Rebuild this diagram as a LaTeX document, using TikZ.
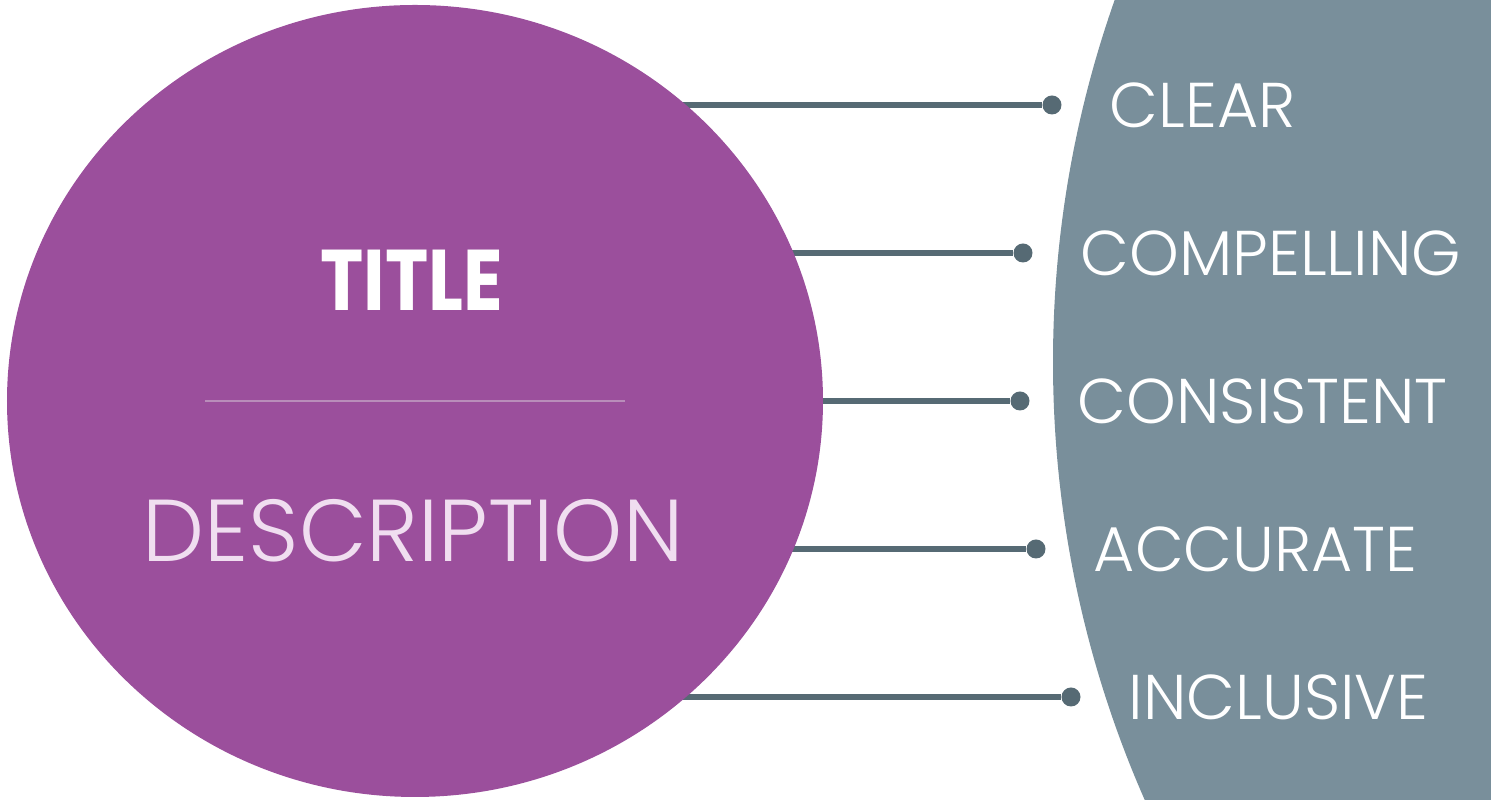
\documentclass[tikz,border=0pt]{standalone}
\usepackage{fontspec}
\setmainfont{Poppins}
\newfontfamily\thinfont{Poppins}[UprightFont={* Light}]
\usepackage{tikz}
\usetikzlibrary{shapes.geometric, positioning, backgrounds}
\definecolor{plum}{HTML}{9B4F9C}
\definecolor{slate}{HTML}{798F9B}
\definecolor{wire}{HTML}{566A74}
\definecolor{lilac}{HTML}{F0DEF0}
\definecolor{rule}{HTML}{B98DBA}

\begin{document}
\begin{tikzpicture}[node distance=0.47cm,quality/.style={font=\thinfont\fontsize{18}{18}\selectfont, text=white, anchor=west, inner sep=0pt}]
\tikzstyle{knob} = [circle, fill=wire, inner sep=0pt, minimum size=0.19cm]
\tikzstyle{wireline} = [draw=wire, line width=1.7pt]

\useasboundingbox (0,0) rectangle (14.91,8);
\clip (0,0) rectangle (14.91,8);

\node[ellipse, fill=plum, inner sep=0pt, minimum width=8.16cm, minimum height=7.92cm] (main) at (4.15,3.99) {};
\node[text=white, font=\bfseries\fontsize{24.5}{24.5}\selectfont] (title) at (4.12,5.2) {\scalebox{0.85}[1]{TITLE}};
\node[text=lilac, font=\thinfont\fontsize{25}{25}\selectfont] (desc) at (4.13,2.69) {DESCRIPTION};
\draw[rule, line width=0.6pt] ([xshift=-2.1cm]main.center) -- ([xshift=2.1cm]main.center);

\node[knob] (d1) at (10.52,6.95) {};
\node[knob] (d2) at (10.23,5.47) {};
\node[knob] (d3) at (10.20,3.99) {};
\node[knob] (d4) at (10.36,2.51) {};
\node[knob] (d5) at (10.71,1.03) {};

\node[quality, right=of d1] (clear) {CLEAR};
\node[quality, right=of d2] (compelling) {COMPELLING};
\node[quality, right=of d3] (consistent) {CONSISTENT};
\node[quality, right=of d4] (accurate) {ACCURATE};
\node[quality, right=of d5] (inclusive) {INCLUSIVE};

\begin{scope}[on background layer]
\fill[slate] (21.41,4.38) circle (10.88);
\foreach \d in {d1,d2,d3,d4,d5}
  \draw[wireline] (main.center |- \d) -- (\d);
\end{scope}

\end{tikzpicture}
\end{document}
